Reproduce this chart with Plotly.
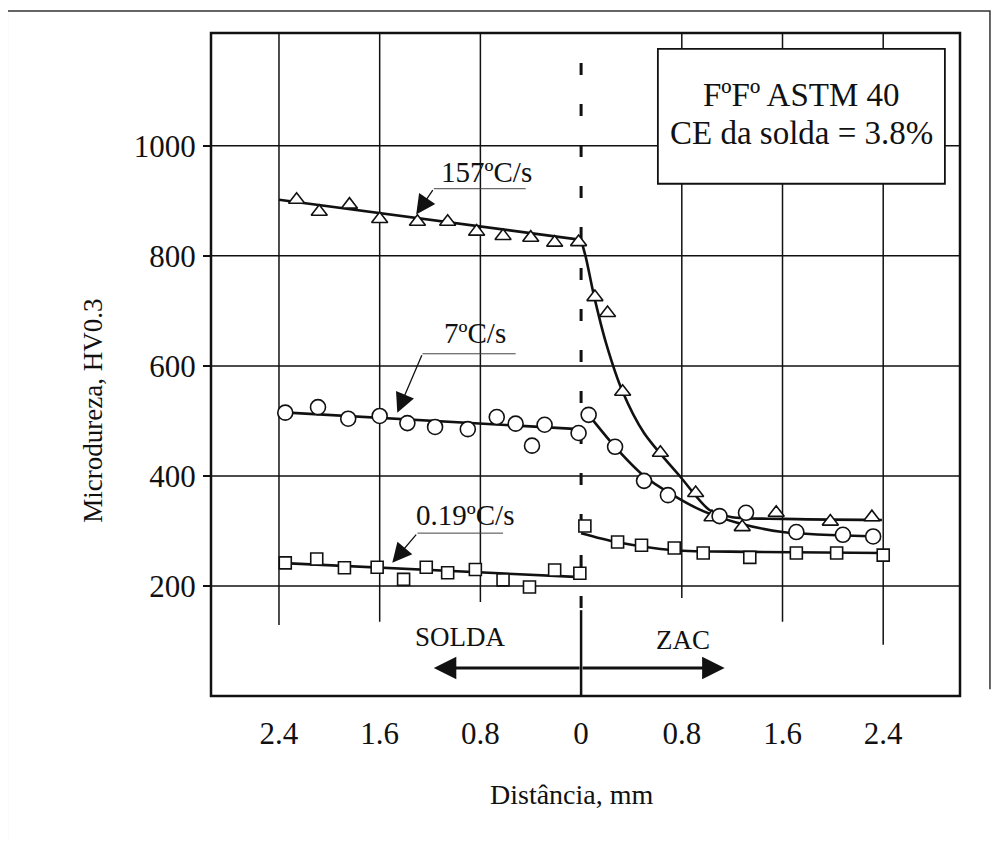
import plotly.graph_objects as go

# --- data (x < 0 = solda, x > 0 = ZAC) ---
# 157 C/s (triangles)
x_157_solda = [-2.26, -2.08, -1.84, -1.60, -1.30, -1.06, -0.83, -0.62, -0.40, -0.21, -0.02]
hv_157_solda = [902, 880, 893, 867, 862, 862, 844, 836, 833, 824, 825]
x_157_zac = [0.11, 0.21, 0.33, 0.63, 0.91, 1.04, 1.28, 1.55, 1.98, 2.31]
hv_157_zac = [725, 696, 553, 442, 369, 325, 307, 333, 317, 325]

# 7 C/s (circles)
x_7_solda = [-2.35, -2.09, -1.85, -1.60, -1.38, -1.16, -0.90, -0.67, -0.52, -0.39, -0.29, -0.02]
hv_7_solda = [515, 525, 504, 509, 496, 489, 485, 507, 495, 455, 493, 478]
x_7_zac = [0.06, 0.27, 0.50, 0.69, 1.10, 1.31, 1.71, 2.08, 2.32]
hv_7_zac = [511, 453, 391, 365, 327, 333, 298, 293, 290]

# 0.19 C/s (squares)
x_019_solda = [-2.35, -2.10, -1.88, -1.62, -1.41, -1.23, -1.06, -0.84, -0.62, -0.41, -0.21, -0.01]
hv_019_solda = [242, 249, 233, 234, 212, 234, 224, 230, 211, 198, 229, 223]
x_019_zac = [0.03, 0.29, 0.48, 0.74, 0.97, 1.34, 1.71, 2.03, 2.40]
hv_019_zac = [309, 280, 274, 269, 260, 252, 260, 260, 256]

# hand-drawn trend lines
fit_157_solda_x = [-2.40, 0.0]
fit_157_solda_y = [902, 829]
fit_157_zac_x = [0.0, 0.04, 0.10, 0.20, 0.33, 0.50, 0.79, 1.02, 1.20, 1.60, 2.39]
fit_157_zac_y = [829, 795, 730, 640, 553, 478, 398, 338, 325, 322, 320]
fit_7_solda_x = [-2.40, -0.02]
fit_7_solda_y = [516, 485]
fit_7_zac_x = [0.06, 0.27, 0.50, 0.71, 0.97, 1.24, 1.60, 2.37]
fit_7_zac_y = [511, 453, 400, 368, 336, 315, 298, 290]
fit_019_solda_x = [-2.40, 0.0]
fit_019_solda_y = [242, 216]
fit_019_zac_x = [0.0, 0.28, 0.74, 1.34, 2.40]
fit_019_zac_y = [296, 280, 265, 262, 260]

x_ticks = [-2.4, -1.6, -0.8, 0, 0.8, 1.6, 2.4]
x_ticktext = ["2.4", "1.6", "0.8", "0", "0.8", "1.6", "2.4"]
y_ticks = [200, 400, 600, 800, 1000]

XMIN, XMAX = -2.94, 3.01
YMAX = 1205
FONT = "Liberation Serif"
INK = "#111111"

fig = go.Figure()

def fit(x, y, shape="linear"):
    fig.add_trace(go.Scatter(x=x, y=y, mode="lines", showlegend=False,
                             line=dict(color=INK, width=2.6, shape=shape, smoothing=0.8),
                             hoverinfo="skip"))

def pts(x, y, symbol, size):
    fig.add_trace(go.Scatter(x=x, y=y, mode="markers", showlegend=False,
                             marker=dict(symbol=symbol, size=size, color="white",
                                         line=dict(color=INK, width=1.6))))

fit(fit_157_solda_x, fit_157_solda_y)
fit(fit_157_zac_x, fit_157_zac_y, "spline")
fit(fit_7_solda_x, fit_7_solda_y)
fit(fit_7_zac_x, fit_7_zac_y, "spline")
fit(fit_019_solda_x, fit_019_solda_y)
fit(fit_019_zac_x, fit_019_zac_y, "spline")

pts(x_157_solda, hv_157_solda, "triangle-up", 14)
pts(x_157_zac, hv_157_zac, "triangle-up", 14)
pts(x_7_solda, hv_7_solda, "circle", 15)
pts(x_7_zac, hv_7_zac, "circle", 15)
pts(x_019_solda, hv_019_solda, "square", 12)
pts(x_019_zac, hv_019_zac, "square", 12)

shapes = []
# horizontal grid
for yv in y_ticks:
    shapes.append(dict(type="line", x0=XMIN, x1=XMAX, y0=yv, y1=yv, layer="below",
                       line=dict(color=INK, width=1.5)))
# vertical grid (they stop at different heights in the original)
grid_x = [-2.4, -1.6, -0.8, 0.8, 1.6, 2.4]
grid_bottom = [129, 135, 171, 178, 135, 93]
for gx, gb in zip(grid_x, grid_bottom):
    shapes.append(dict(type="line", x0=gx, x1=gx, y0=gb, y1=YMAX, layer="below",
                       line=dict(color=INK, width=1.5)))
# dashed interface line and the solid divider under it
shapes.append(dict(type="line", x0=0, x1=0, y0=160, y1=YMAX, layer="below",
                   line=dict(color=INK, width=3, dash="12px,29px")))
shapes.append(dict(type="line", x0=0, x1=0, y0=0, y1=156, line=dict(color=INK, width=2.5)))
# plot border
shapes.append(dict(type="rect", xref="paper", yref="paper", x0=0, x1=1, y0=0, y1=1,
                   line=dict(color=INK, width=2.5)))
# info box
shapes.append(dict(type="rect", x0=0.61, x1=2.89, y0=931, y1=1176, fillcolor="white",
                   line=dict(color=INK, width=1.8), layer="above"))
# label leaders
leaders = [(-1.17, -0.44, 922), (-1.26, -0.52, 622), (-1.30, -0.62, 296)]
for a, b, yv in leaders:
    shapes.append(dict(type="line", x0=a, x1=b, y0=yv, y1=yv, line=dict(color="#444", width=1)))
# outer page frame
shapes.append(dict(type="path", xref="paper", yref="paper",
                   path="M -0.272,-0.25 L -0.272,1.033 L 1.040,1.033 L 1.040,0.01",
                   line=dict(color="#333", width=1.5)))

annotations = []
def label(x, y, text, size=29):
    annotations.append(dict(x=x, y=y, text=text, showarrow=False,
                            xanchor="center", yanchor="middle",
                            font=dict(family=FONT, size=size, color=INK)))

label(-0.75, 953, "157ºC/s")
label(-0.84, 660, "7ºC/s")
label(-0.92, 329, "0.19ºC/s")
label(1.75, 1093, "FºFº ASTM 40", 33)
label(1.75, 1024, "CE da solda = 3.8%", 33)
label(-0.96, 107, "SOLDA", 27)
label(0.81, 102, "ZAC", 27)

# leader arrows (tail, tip)
arrows = [((-1.17, 922), (-1.31, 875)), ((-1.26, 622), (-1.46, 515)), ((-1.30, 296), (-1.50, 242))]
for (tx, ty), (hx, hy) in arrows:
    annotations.append(dict(x=hx, y=hy, ax=tx, ay=ty, axref="x", ayref="y", text="",
                            showarrow=True, arrowhead=2, arrowsize=3.0, arrowwidth=1.3,
                            arrowcolor=INK, standoff=0, startstandoff=0))
# SOLDA / ZAC arrows
for tip in (-1.17, 1.14):
    annotations.append(dict(x=tip, y=51, ax=0, ay=51, axref="x", ayref="y", text="",
                            showarrow=True, arrowhead=2, arrowsize=1.5, arrowwidth=3,
                            arrowcolor=INK, standoff=0, startstandoff=0))

# axis titles
annotations.append(dict(xref="paper", yref="paper", x=-0.157, y=0.431, text="Microdureza, HV0.3",
                        textangle=-90, showarrow=False, xanchor="center", yanchor="middle",
                        font=dict(family=FONT, size=27, color=INK)))
annotations.append(dict(xref="paper", yref="paper", x=0.482, y=-0.149, text="Distância, mm",
                        showarrow=False, xanchor="center", yanchor="middle",
                        font=dict(family=FONT, size=28, color=INK)))

# the page body adds an 8px offset, so margins are reduced by that amount
fig.update_layout(
    width=1002, height=841,
    margin=dict(l=203, r=50, t=25, b=153),
    paper_bgcolor="white", plot_bgcolor="white",
    xaxis=dict(range=[XMIN, XMAX], showgrid=False, zeroline=False, showline=False,
               tickvals=x_ticks, ticktext=x_ticktext, ticks="", ticklabelstandoff=16,
               tickfont=dict(family=FONT, size=31, color=INK)),
    yaxis=dict(range=[0, YMAX], showgrid=False, zeroline=False, showline=False,
               tickvals=y_ticks, ticks="outside", ticklen=7, tickwidth=1.5, tickcolor=INK,
               ticklabelstandoff=1, tickfont=dict(family=FONT, size=31, color=INK)),
    shapes=shapes,
    annotations=annotations,
    showlegend=False,
)

fig.write_html("out.html")
